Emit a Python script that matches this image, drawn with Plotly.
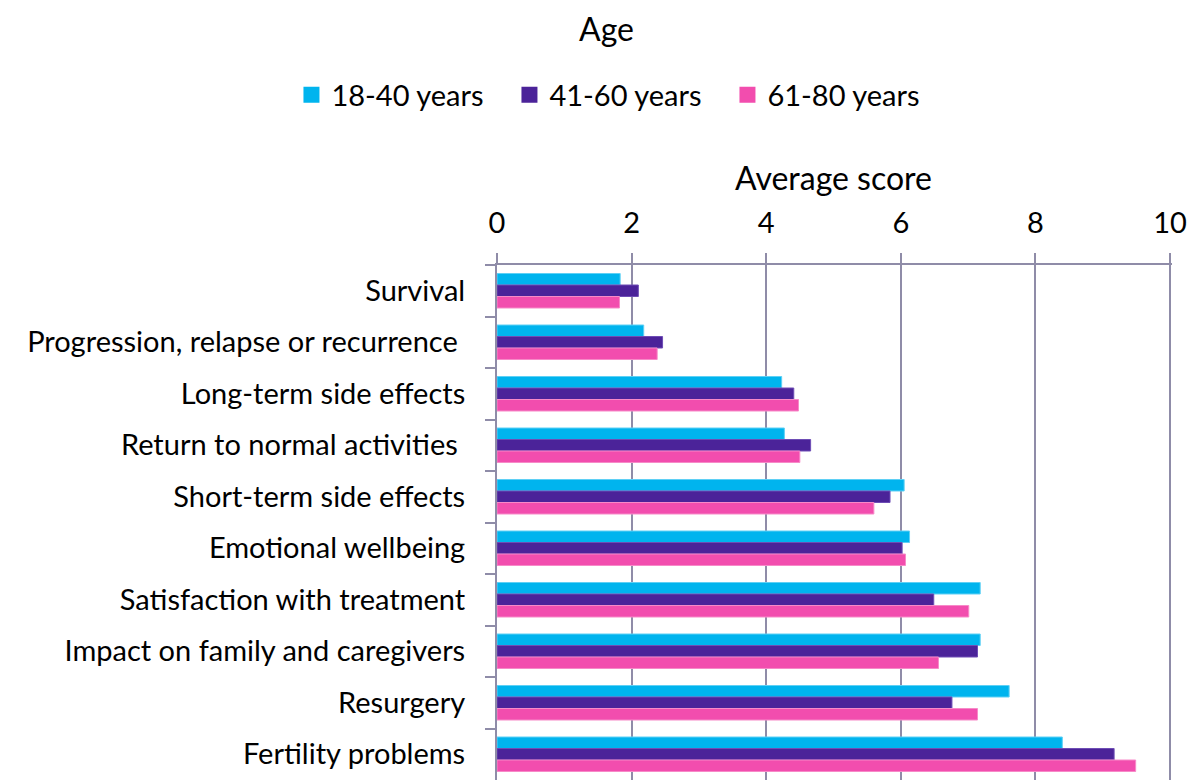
import plotly.graph_objects as go

categories = [
    "Survival",
    "Progression, relapse or recurrence\u00a0",
    "Long-term side effects",
    "Return to normal activities\u00a0",
    "Short-term side effects",
    "Emotional wellbeing",
    "Satisfaction with treatment",
    "Impact on family and caregivers",
    "Resurgery",
    "Fertility problems",
]
series_names = ["18-40 years", "41-60 years", "61-80 years"]
age_18_40 = [1.83, 2.18, 4.23, 4.27, 6.05, 6.13, 7.18, 7.18, 7.61, 8.40]
age_41_60 = [2.10, 2.46, 4.41, 4.66, 5.84, 6.02, 6.49, 7.14, 6.76, 9.17]
age_61_80 = [1.82, 2.38, 4.48, 4.50, 5.60, 6.07, 7.01, 6.56, 7.14, 9.49]
x_ticks = [0, 2, 4, 6, 8, 10]

colors = ["#00B4EE", "#4B2399", "#F24DAE"]
edges = ["#5FD0F5", "#6E4DB5", "#F78AC8"]
FONT = "Lato"
AXC = "#8F8CA8"

# page body margin of the html is 8px; compensate
OFF = 8
XMAX = 10.03
W, H = 1179, 772
L, T, B = 489, 257, 0
pw = round(676 * XMAX / 10)
R = W - L - pw
ph = H - T - B


def px_x(page_x):
    return (page_x - OFF - L) / pw


def px_y(page_y):
    return 1 - (page_y - OFF - T) / ph


fig = go.Figure()
for name, vals, c, e in zip(series_names, [age_18_40, age_41_60, age_61_80], colors, edges):
    fig.add_trace(go.Bar(
        y=categories, x=vals, name=name, orientation="h", showlegend=False,
        marker=dict(color=c, line=dict(color=e, width=1)),
    ))
for name, c in zip(series_names, colors):
    fig.add_trace(go.Scatter(
        x=[None], y=[None], mode="markers", name=name,
        marker=dict(symbol="square", size=21, color=c),
    ))

fig.update_layout(
    width=W, height=H,
    margin=dict(l=L, r=R, t=T, b=B),
    paper_bgcolor="white", plot_bgcolor="white",
    barmode="group", bargap=0.33, bargroupgap=0,
    font=dict(family=FONT, size=29, color="black"),
    showlegend=True,
    legend=dict(
        orientation="h", x=px_x(619), xanchor="center",
        y=px_y(95), yanchor="middle",
        font=dict(size=29), itemwidth=30, traceorder="normal",
        entrywidth=173, entrywidthmode="pixels",
    ),
    annotations=[
        dict(text="Age", xref="paper", yref="paper",
             x=px_x(607), y=px_y(28), xanchor="center", yanchor="middle",
             showarrow=False, font=dict(size=32)),
        dict(text="Average score", xref="paper", yref="paper",
             x=px_x(835), y=px_y(178), xanchor="center", yanchor="middle",
             showarrow=False, font=dict(size=32)),
    ],
)
fig.update_xaxes(
    side="top", range=[0, XMAX], tickvals=x_ticks, ticktext=[str(v) for v in x_ticks],
    showgrid=True, gridcolor=AXC, gridwidth=2,
    showline=True, linecolor=AXC, linewidth=2,
    ticks="outside", ticklen=10, tickcolor=AXC, tickwidth=2,
    tickfont=dict(size=29), zeroline=False, ticklabelstandoff=8,
    ticklabeloverflow="allow",
)
fig.update_yaxes(
    autorange="reversed", showline=True, linecolor=AXC, linewidth=2,
    ticks="outside", ticklen=10, tickcolor=AXC, tickwidth=2, tickson="boundaries",
    showgrid=False, tickfont=dict(size=29), ticklabelstandoff=24,
)

fig.write_html("out.html")
